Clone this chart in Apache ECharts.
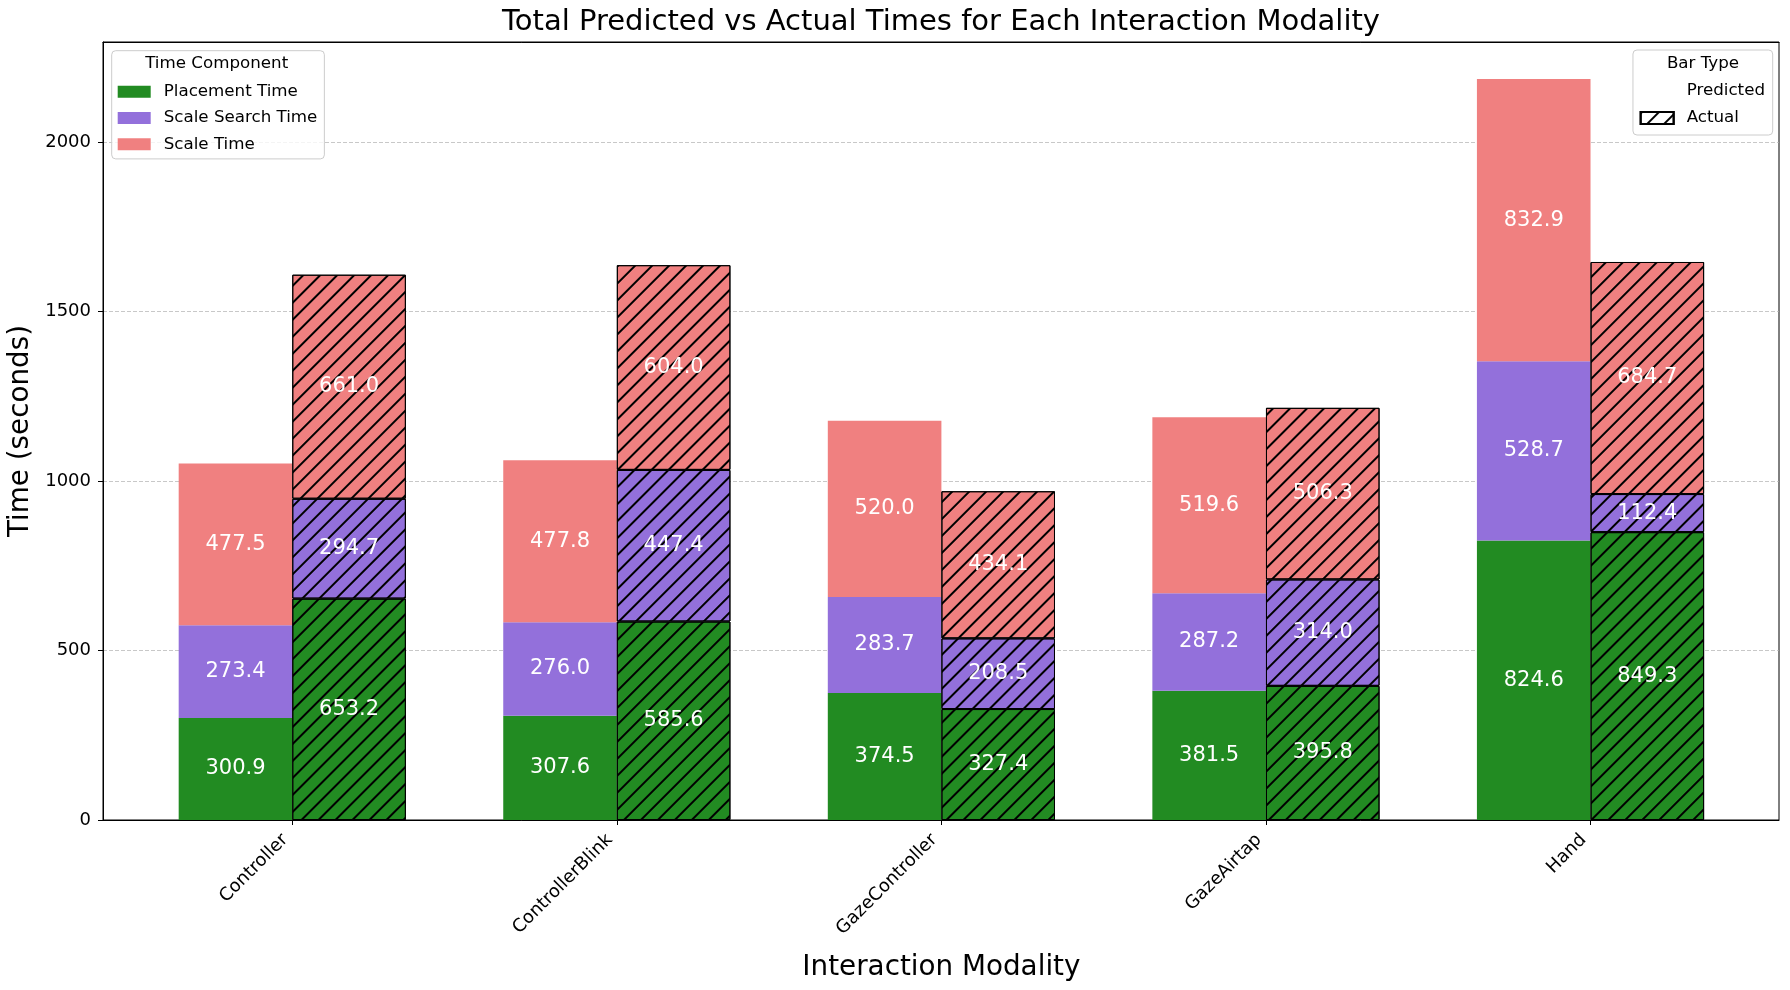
<!DOCTYPE html>
<html>
<head>
<meta charset="utf-8">
<script src="https://cdn.jsdelivr.net/npm/echarts@6/dist/echarts.min.js"></script>
<style>
html,body{margin:0;padding:0;background:#fff;}
#chart{width:1790px;height:990px;}
</style>
</head>
<body>
<div id="chart"></div>
<script>
const categories = ['Controller', 'ControllerBlink', 'GazeController', 'GazeAirtap', 'Hand'];
const componentNames = ['Placement Time', 'Scale Search Time', 'Scale Time'];
const barTypes = ['Predicted', 'Actual'];
const predPlacement = [300.9, 307.6, 374.5, 381.5, 824.6];
const predScaleSearch = [273.4, 276.0, 283.7, 287.2, 528.7];
const predScale = [477.5, 477.8, 520.0, 519.6, 832.9];
const actPlacement = [653.2, 585.6, 327.4, 395.8, 849.3];
const actScaleSearch = [294.7, 447.4, 208.5, 314.0, 112.4];
const actScale = [661.0, 604.0, 434.1, 506.3, 684.7];
const yTicks = [0, 500, 1000, 1500, 2000];

const colors = ['#228B22', '#9370DB', '#F08080'];
const FONT = 'DejaVu Sans';

const predTotals = categories.map((c, i) => predPlacement[i] + predScaleSearch[i] + predScale[i]);
const actTotals = categories.map((c, i) => actPlacement[i] + actScaleSearch[i] + actScale[i]);
const yMax = 1.05 * Math.max(...predTotals, ...actTotals);

const hatch = {
  symbol: 'rect',
  symbolSize: 1,
  color: '#000',
  dashArrayX: [1, 0],
  dashArrayY: [2, 10],
  rotation: -Math.PI / 4
};

const labelCfg = {
  show: true,
  position: 'inside',
  color: '#fff',
  fontSize: 21,
  fontFamily: FONT,
  formatter: p => Number(p.value).toFixed(1)
};

function predSeries(name, data, color) {
  return {
    name: name, type: 'bar', stack: 'pred', xAxisIndex: 1, yAxisIndex: 1,
    barWidth: '35%', barGap: '0%', data: data,
    itemStyle: { color: color },
    label: labelCfg
  };
}
function actSeries(name, data, color) {
  return {
    name: name, type: 'bar', stack: 'act', xAxisIndex: 1, yAxisIndex: 1,
    barWidth: '35%', barGap: '0%', data: data,
    itemStyle: { color: color, borderColor: '#000', borderWidth: 1, decal: hatch },
    label: labelCfg
  };
}

const frameAxisLine = { show: true, lineStyle: { color: '#000', width: 1 } };

const chart = echarts.init(document.getElementById('chart'), null, { renderer: 'canvas' });
const option = {
  animation: false,
  backgroundColor: '#fff',
  textStyle: { fontFamily: FONT },
  title: {
    text: 'Total Predicted vs Actual Times for Each Interaction Modality',
    left: 941, top: 8, textAlign: 'center', padding: 0,
    textStyle: { fontSize: 29, fontWeight: 'normal', color: '#000', fontFamily: FONT }
  },
  graphic: [
    { type: 'text', x: 216.7, y: 64, z: 100,
      style: { text: 'Time Component', fill: '#000', fontSize: 16.7, fontFamily: FONT, align: 'center', verticalAlign: 'middle' } },
    { type: 'text', x: 1703, y: 64, z: 100,
      style: { text: 'Bar Type', fill: '#000', fontSize: 16.7, fontFamily: FONT, align: 'center', verticalAlign: 'middle' } }
  ],
  legend: [
    {
      data: componentNames,
      left: 111.7, top: 50.7, orient: 'vertical', icon: 'rect',
      itemWidth: 33, itemHeight: 12, itemGap: 6.3,
      padding: [31, 7, 4.6, 6],
      backgroundColor: 'rgba(255,255,255,0.8)', borderColor: '#cccccc', borderWidth: 1, borderRadius: 4,
      textStyle: { fontSize: 16.7, color: '#000', fontFamily: FONT, lineHeight: 20, padding: [0, 0, 0, 8] },
      selectedMode: false
    },
    {
      data: barTypes,
      right: 17.3, top: 50, orient: 'vertical', icon: 'rect',
      itemWidth: 33, itemHeight: 12, itemGap: 7,
      padding: [31, 7.7, 7, 6.7],
      backgroundColor: 'rgba(255,255,255,0.8)', borderColor: '#cccccc', borderWidth: 1, borderRadius: 4,
      textStyle: { fontSize: 16.7, color: '#000', fontFamily: FONT, lineHeight: 20, padding: [0, 0, 0, 8] },
      selectedMode: false
    }
  ],
  grid: [
    { left: 103, right: 11, top: 42, bottom: 170, show: true, borderColor: '#000', borderWidth: 1,
      backgroundColor: 'transparent', containLabel: false, outerBoundsMode: 'none' },
    { left: 130, right: 37.2, top: 42, bottom: 170, containLabel: false, outerBoundsMode: 'none' }
  ],
  xAxis: [
    { gridIndex: 0, type: 'value', min: 0, max: 1, position: 'bottom', z: 5,
      axisLine: frameAxisLine, axisTick: { show: false }, axisLabel: { show: false }, splitLine: { show: false } },
    {
      gridIndex: 1, type: 'category', data: categories,
      axisLine: { show: false },
      axisTick: { show: true, alignWithLabel: true, length: 5, lineStyle: { color: '#000', width: 1 } },
      axisLabel: { rotate: 45, margin: 10, fontSize: 18, color: '#000', fontFamily: FONT, padding: [0, 10, 0, 0], interval: 0 },
      name: 'Interaction Modality', nameLocation: 'middle', nameGap: 134,
      nameTextStyle: { fontSize: 27.8, color: '#000', fontFamily: FONT }
    },
    { gridIndex: 0, type: 'value', min: 0, max: 1, position: 'top', z: 5,
      axisLine: frameAxisLine, axisTick: { show: false }, axisLabel: { show: false }, splitLine: { show: false } }
  ],
  yAxis: [
    {
      gridIndex: 0, type: 'value', min: 0, max: yMax, interval: 500,
      axisLine: { show: true, lineStyle: { color: '#000', width: 1 } },
      axisTick: { show: true, length: 5, lineStyle: { color: '#000', width: 1 }, customValues: yTicks },
      axisLabel: { margin: 12, fontSize: 18, color: '#000', fontFamily: FONT, customValues: yTicks,
        formatter: v => String(v) },
      splitLine: { show: true, lineStyle: { color: 'rgba(176,176,176,0.7)', width: 1, type: [4, 2] } },
      name: 'Time (seconds)', nameLocation: 'middle', nameGap: 64,
      nameTextStyle: { fontSize: 27.8, color: '#000', fontFamily: FONT }
    },
    { gridIndex: 1, type: 'value', min: 0, max: yMax, show: false }
  ],
  series: [
    predSeries(componentNames[0], predPlacement, colors[0]),
    predSeries(componentNames[1], predScaleSearch, colors[1]),
    predSeries(componentNames[2], predScale, colors[2]),
    actSeries(componentNames[0], actPlacement, colors[0]),
    actSeries(componentNames[1], actScaleSearch, colors[1]),
    actSeries(componentNames[2], actScale, colors[2]),
    { name: 'Predicted', type: 'bar', xAxisIndex: 0, yAxisIndex: 0, data: [],
      itemStyle: { color: 'rgba(255,255,255,0)' } },
    { name: 'Actual', type: 'bar', xAxisIndex: 0, yAxisIndex: 0, data: [],
      itemStyle: { color: '#fff', borderColor: '#000', borderWidth: 1, decal: hatch } }
  ]
};
chart.setOption(option);
</script>
</body>
</html>
